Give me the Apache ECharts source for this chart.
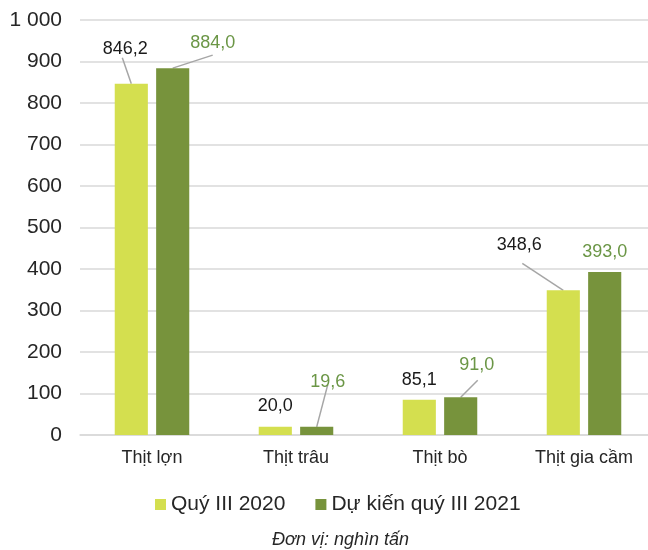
<!DOCTYPE html>
<html>
<head>
<meta charset="utf-8">
<script src="https://cdn.jsdelivr.net/npm/echarts@6/dist/echarts.min.js"></script>
<style>
  html, body { margin: 0; padding: 0; background: #fff; overflow: hidden; }
  #chart { width: 656px; height: 550px; }
</style>
</head>
<body>
<div id="chart"></div>
<script>
var categories = ['Thịt lợn', 'Thịt trâu', 'Thịt bò', 'Thịt gia cầm'];
var seriesNames = ['Quý III 2020', 'Dự kiến quý III 2021'];
var values2020 = [846.2, 20.0, 85.1, 348.6];
var values2021 = [884.0, 19.6, 91.0, 393.0];
var yTicks = [0, 100, 200, 300, 400, 500, 600, 700, 800, 900, 1000];

// label offsets in px (dx, dy)
var labelMove2020 = [[-6, -21], [0, -7], [0, -6], [-44, -31]];
var labelMove2021 = [[40, -11], [11, -31], [16, -18], [0, -6]];
// leader line end, px from the bar's top centre (null = no leader)
var leader2020 = [[-9, -26], null, null, [-41, -27]];
var leader2021 = [[40, -13], [11, -42], [17, -17], null];

var BAR_W = 0.23, BAR_GAP = 0.25;

function fmtNum(v) {
  return v.toFixed(1).replace('.', ',');
}
function fmtTick(v) {
  return v >= 1000 ? String(v).replace(/(\d)(\d{3})$/, '$1 $2') : String(v);
}
function layoutFn(moves) {
  return function (p) {
    return { dx: moves[p.dataIndex][0], dy: moves[p.dataIndex][1] };
  };
}

// [category index, value, side(-1 left bar / 1 right bar), endDx, endDy]
var leaderData = [];
values2020.forEach(function (v, i) {
  if (leader2020[i]) leaderData.push([i, v, -1, leader2020[i][0], leader2020[i][1]]);
});
values2021.forEach(function (v, i) {
  if (leader2021[i]) leaderData.push([i, v, 1, leader2021[i][0], leader2021[i][1]]);
});

var chart = echarts.init(document.getElementById('chart'));
var font = 'Liberation Sans, Arial, sans-serif';
chart.setOption({
  animation: false,
  textStyle: { fontFamily: font },
  title: {
    text: 'Đơn vị: nghìn tấn',
    left: 267,
    top: 526,
    textStyle: { fontSize: 18, fontStyle: 'italic', fontWeight: 'normal', color: '#262626', fontFamily: font }
  },
  legend: {
    data: seriesNames,
    left: 150,
    top: 489,
    icon: 'rect',
    itemWidth: 11,
    itemHeight: 11,
    itemGap: 30,
    textStyle: { fontSize: 21, color: '#262626', fontFamily: font }
  },
  grid: { left: 80, right: 0, top: 20, bottom: 115, containLabel: false },
  xAxis: {
    type: 'category',
    data: categories,
    axisLine: { lineStyle: { color: '#d9d9d9', width: 1.5 } },
    axisTick: { show: false },
    axisLabel: { fontSize: 18, color: '#262626', margin: 14, fontFamily: font }
  },
  yAxis: {
    type: 'value',
    min: yTicks[0],
    max: yTicks[yTicks.length - 1],
    interval: yTicks[1] - yTicks[0],
    axisLine: { show: false },
    axisTick: { show: false },
    splitLine: { lineStyle: { color: '#d9d9d9', width: 1.5 } },
    axisLabel: { fontSize: 21, color: '#262626', margin: 18, formatter: fmtTick, fontFamily: font }
  },
  series: [
    {
      name: seriesNames[0],
      type: 'bar',
      data: values2020,
      barWidth: (BAR_W * 100) + '%',
      barGap: (BAR_GAP * 100) + '%',
      itemStyle: { color: '#d4df4f' },
      label: {
        show: true, position: 'top', fontSize: 18, color: '#1a1a1a',
        formatter: function (p) { return fmtNum(p.value); }
      },
      labelLayout: layoutFn(labelMove2020)
    },
    {
      name: seriesNames[1],
      type: 'bar',
      data: values2021,
      barWidth: (BAR_W * 100) + '%',
      itemStyle: { color: '#77933c' },
      label: {
        show: true, position: 'top', fontSize: 18, color: '#6b9646',
        formatter: function (p) { return fmtNum(p.value); }
      },
      labelLayout: layoutFn(labelMove2021)
    },
    {
      type: 'custom',
      silent: true,
      data: leaderData,
      encode: { x: 0, y: 1 },
      renderItem: function (params, api) {
        var pt = api.coord([api.value(0), api.value(1)]);
        var bw = api.size([1, 0])[0] * BAR_W;
        var x0 = pt[0] + api.value(2) * bw * (1 + BAR_GAP) / 2;
        var y0 = pt[1];
        return {
          type: 'line',
          shape: { x1: x0, y1: y0, x2: x0 + api.value(3), y2: y0 + api.value(4) },
          style: { stroke: '#a6a6a6', lineWidth: 1.5 }
        };
      }
    }
  ]
});
</script>
</body>
</html>
